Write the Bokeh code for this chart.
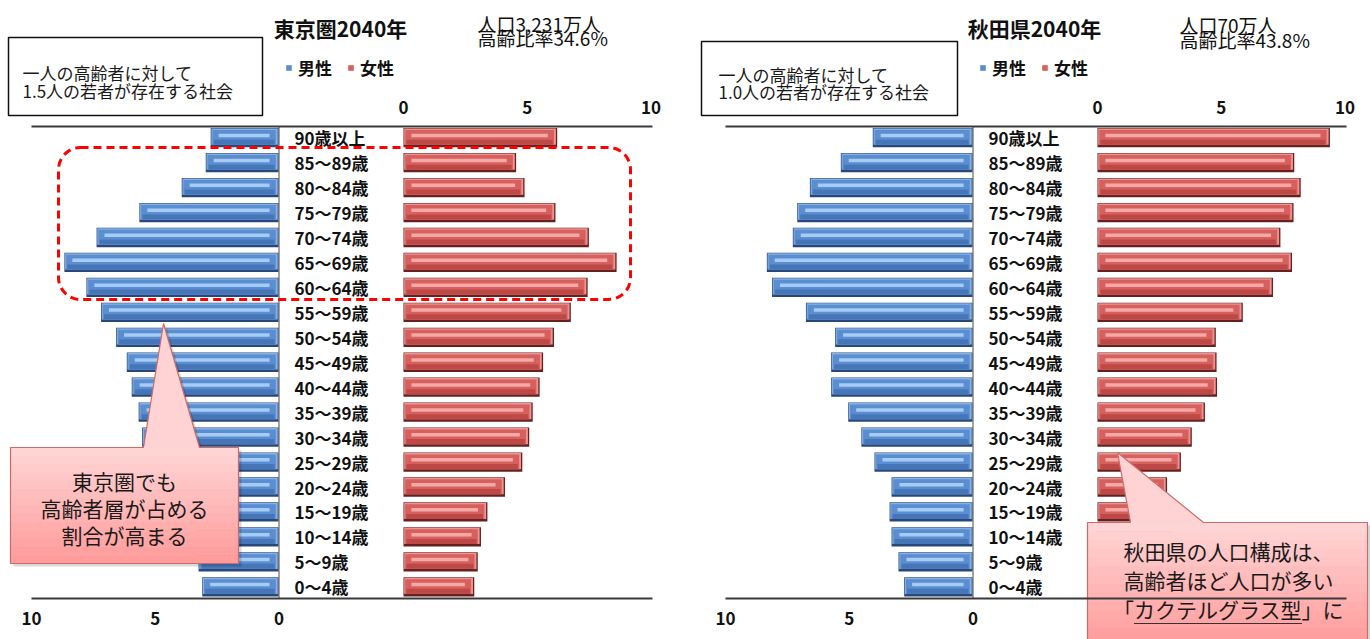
import numpy as np
from bokeh.plotting import figure
from bokeh.models import Range1d, LinearAxis, FixedTicker, BoxAnnotation, Legend, LegendItem
from bokeh.core.properties import value
from bokeh.embed import file_html
from bokeh.resources import INLINE

# ---------------- data ----------------
ages = ["90歳以上", "85～89歳", "80～84歳", "75～79歳", "70～74歳", "65～69歳",
        "60～64歳", "55～59歳", "50～54歳", "45～49歳", "40～44歳", "35～39歳",
        "30～34歳", "25～29歳", "20～24歳", "15～19歳", "10～14歳", "5～9歳", "0～4歳"]
tokyo_male = [2.76, 2.96, 3.93, 5.64, 7.37, 8.67, 7.78, 7.19, 6.58, 6.15,
              5.95, 5.67, 5.53, 5.00, 4.30, 3.60, 3.35, 3.25, 3.10]
tokyo_female = [6.21, 4.55, 4.89, 6.14, 7.49, 8.61, 7.44, 6.76, 6.08, 5.64,
                5.50, 5.22, 5.08, 4.80, 4.10, 3.39, 3.13, 3.00, 2.86]
akita_male = [4.05, 5.34, 6.59, 7.10, 7.28, 8.33, 8.12, 6.75, 5.57, 5.73,
              5.73, 5.04, 4.51, 3.98, 3.29, 3.37, 3.29, 3.01, 2.78]
akita_female = [9.39, 7.95, 8.21, 7.92, 7.39, 7.86, 7.09, 5.87, 4.78, 4.81,
                4.83, 4.34, 3.81, 3.37, 2.81, 2.70, 3.00, 2.80, 2.60]
axis_ticks = [0, 5, 10]
legend_labels = ["男性", "女性"]
titles = ["東京圏2040年", "秋田県2040年"]
pop_lines = [["人口3,231万人", "高齢比率34.6%"], ["人口70万人", "高齢比率43.8%"]]
box_lines = [["一人の高齢者に対して", "1.5人の若者が存在する社会"],
             ["一人の高齢者に対して", "1.0人の若者が存在する社会"]]
callout_tokyo = ["東京圏でも", "高齢者層が占める", "割合が高まる"]
callout_akita = ["秋田県の人口構成は、", "高齢者ほど人口が多い", "「カクテルグラス型」に"]

panels = [(tokyo_male, tokyo_female), (akita_male, akita_female)]

# ---------------- layout constants ----------------
W, H = 1370, 639
S = 24.75          # px per unit (%)
ROW0, ROWH = 137.2, 24.95
BH = 0.775
DX = 694
FONT = value("Noto Sans CJK JP")
FONT_NAME = "Noto Sans CJK JP"

p = figure(width=W, height=H, x_range=Range1d(0, W), y_range=Range1d(H, 0),
           output_backend="svg", toolbar_location=None, min_border=0,
           x_axis_location=None, y_axis_location=None)
p.outline_line_color = None
p.grid.visible = False
p.background_fill_color = "white"

p.extra_y_ranges = {"rows": Range1d(start=(H - ROW0) / ROWH, end=-ROW0 / ROWH)}

# dark rim, light top edge, body, highlight, lower body
male_cols = ("#28487a", "#86b1e6", "#5a8ed0", "#a6cbf4", "#4676b8")
female_cols = ("#652020", "#ee9391", "#d6605d", "#f5a9a6", "#bd4846")


def bevel(vals, xr, cols, left_in, right_in):
    """left_in / right_in: insets in value units at the zero end / value end."""
    dark, edge, body, hi, low = cols
    v = np.array(vals, dtype=float)
    y = np.arange(len(vals))
    kw = dict(line_color=None, x_range_name=xr, y_range_name="rows")
    p.hbar(y=y, left=0, right=v, height=BH, fill_color=dark, **kw)
    p.hbar(y=y - 0.04, left=left_in * 0.4, right=v - right_in * 0.4, height=0.655,
           fill_color=edge, **kw)
    r = p.hbar(y=y - 0.01, left=left_in, right=v - right_in, height=0.595,
               fill_color=body, **kw)
    p.hbar(y=y + 0.18, left=left_in + 0.05, right=v - right_in - 0.05, height=0.2,
           fill_color=low, **kw)
    p.hbar(y=y - 0.09, left=left_in + 0.25, right=v - right_in - 0.25, height=0.14,
           fill_color=hi, **kw)
    return r


for k, (mvals, fvals) in enumerate(panels):
    dx = k * DX
    MZ = 278.5 + dx
    FZ = 403.0 + dx
    mr, fr = f"male{k}", f"female{k}"
    p.extra_x_ranges[mr] = Range1d(start=MZ / S, end=-(W - MZ) / S)
    p.extra_x_ranges[fr] = Range1d(start=-FZ / S, end=(W - FZ) / S)

    L0, L1 = 31 + dx, 652 + dx

    rm = bevel(mvals, mr, male_cols, 0.13, 0.07)
    rf = bevel(fvals, fr, female_cols, 0.07, 0.13)

    # centre line
    p.segment(x0=[0], x1=[0], y0=[126], y1=[598], x_range_name=mr,
              line_color="#858585", line_width=1.5)

    # axes
    common = dict(ticker=FixedTicker(ticks=axis_ticks), axis_line_color="#3a3a3a",
                  axis_line_width=2, major_tick_line_color=None,
                  minor_tick_line_color=None, major_label_text_font=FONT_NAME,
                  major_label_text_font_size="17px", major_label_text_font_style="bold",
                  major_label_text_color="#111111")
    top_axis = LinearAxis(x_range_name=fr, fixed_location=126,
                          bounds=((L0 - FZ) / S, (L1 - FZ) / S),
                          major_label_standoff=7, **common)
    p.add_layout(top_axis, "above")
    bot_axis = LinearAxis(x_range_name=mr, fixed_location=598,
                          bounds=((MZ - L1) / S, (MZ - L0) / S + 1e-6),
                          major_label_standoff=7, **common)
    p.add_layout(bot_axis, "below")

    # age labels
    p.text(x=[294 + dx] * len(ages), y=np.arange(len(ages)), text=ages,
           y_range_name="rows", text_font=FONT, text_font_size="17px",
           text_font_style="bold", text_align="left", text_baseline="middle",
           text_color="#111111")

    # title
    p.text(x=[340 + dx], y=[27], text=[titles[k]], text_font=FONT,
           text_font_size="21px", text_font_style="bold", text_align="center",
           text_baseline="middle", text_color="#111111")
    # population
    py = [23, 37] if k == 0 else [24, 39]
    p.text(x=[477 + dx + (0 if k == 0 else 8)] * 2, y=py, text=pop_lines[k],
           text_font=FONT, text_font_size="19px", text_align="left",
           text_baseline="middle", text_color="#111111")
    # info box
    bt = 37 if k == 0 else 41
    bl = 8 if k == 0 else 701 - dx
    p.quad(left=[bl + dx], right=[262 + dx + (0 if k == 0 else 1)], top=[bt], bottom=[115],
           fill_color=None, line_color="#111111", line_width=1.5)
    p.text(x=[22 + dx + (0 if k == 0 else 2)] * 2, y=[71.5 + 2 * k, 90 + k], text=box_lines[k],
           text_font=FONT, text_font_size="17px", text_align="left",
           text_baseline="middle", text_color="#1a1a1a")

    # legend
    leg = Legend(items=[LegendItem(label=legend_labels[0], renderers=[rm]),
                        LegendItem(label=legend_labels[1], renderers=[rf])],
                 location=(285 + dx, H - 80), orientation="horizontal",
                 glyph_width=7, glyph_height=7, label_standoff=6, spacing=15,
                 padding=0, margin=0, border_line_color=None,
                 background_fill_alpha=0, label_text_font=FONT_NAME,
                 label_text_font_size="17px", label_text_font_style="bold",
                 label_text_color="#111111", label_height=20)
    p.add_layout(leg)


def lerp_hex(c0, c1, t):
    a = [int(c0[i:i + 2], 16) for i in (1, 3, 5)]
    b = [int(c1[i:i + 2], 16) for i in (1, 3, 5)]
    return "#%02x%02x%02x" % tuple(round(a[j] + (b[j] - a[j]) * t) for j in range(3))


def callout(box, tip, lines, cx, cy0, dy, underline=None):
    l, r, t, b = box
    (bx0, by), (ax, ay), (bx1, _) = tip
    xs = [l, bx0, ax, bx1, r, r, l]
    ys = [t, by, ay, by, t, b, b]
    p.patch([x + 3 for x in xs], [y + 3 for y in ys], fill_color="#000000",
            fill_alpha=0.15, line_color=None)
    p.patch([bx0, ax, bx1], [by, ay, by], fill_color="#ffd3d3", line_color=None)
    n = 14
    hs = (b - t) / n
    p.quad(left=[l] * n, right=[r] * n, top=[t + i * hs for i in range(n)],
           bottom=[t + (i + 1) * hs + 0.5 for i in range(n)],
           fill_color=[lerp_hex("#ffd4d4", "#ff9c9c", i / (n - 1)) for i in range(n)],
           line_color=None)
    p.patch(xs, ys, fill_color=None, line_color="#cc6b6b", line_width=1.2)
    p.text(x=[cx] * len(lines), y=[cy0 + i * dy for i in range(len(lines))], text=lines,
           text_font=FONT, text_font_size="21px", text_align="center",
           text_baseline="middle", text_color="#1a1a1a")
    if underline:
        p.segment(x0=[underline[0]], x1=[underline[1]], y0=[underline[2]],
                  y1=[underline[2]], line_color="#333333", line_width=1.2)


callout((10, 238, 447, 563), ((143, 447), (163, 323), (199, 447)),
        callout_tokyo, 124, 480, 27)
fs = 21
w3 = len(callout_akita[2]) * fs
x_start = 1228 - w3 / 2
callout((1087, 1367, 522, 645), ((1130, 522), (1117, 452), (1203, 522)),
        callout_akita, 1228, 550, 29, underline=(x_start + fs, x_start + 9 * fs, 623))

# dashed highlight box
p.add_layout(BoxAnnotation(left=58, right=630, top=147, bottom=299,
                           fill_color=None, fill_alpha=0, line_color="#ff0000",
                           line_alpha=1.0, line_width=3, line_dash="8 5",
                           border_radius=22))

open("out.html", "w").write(file_html(p, INLINE))
